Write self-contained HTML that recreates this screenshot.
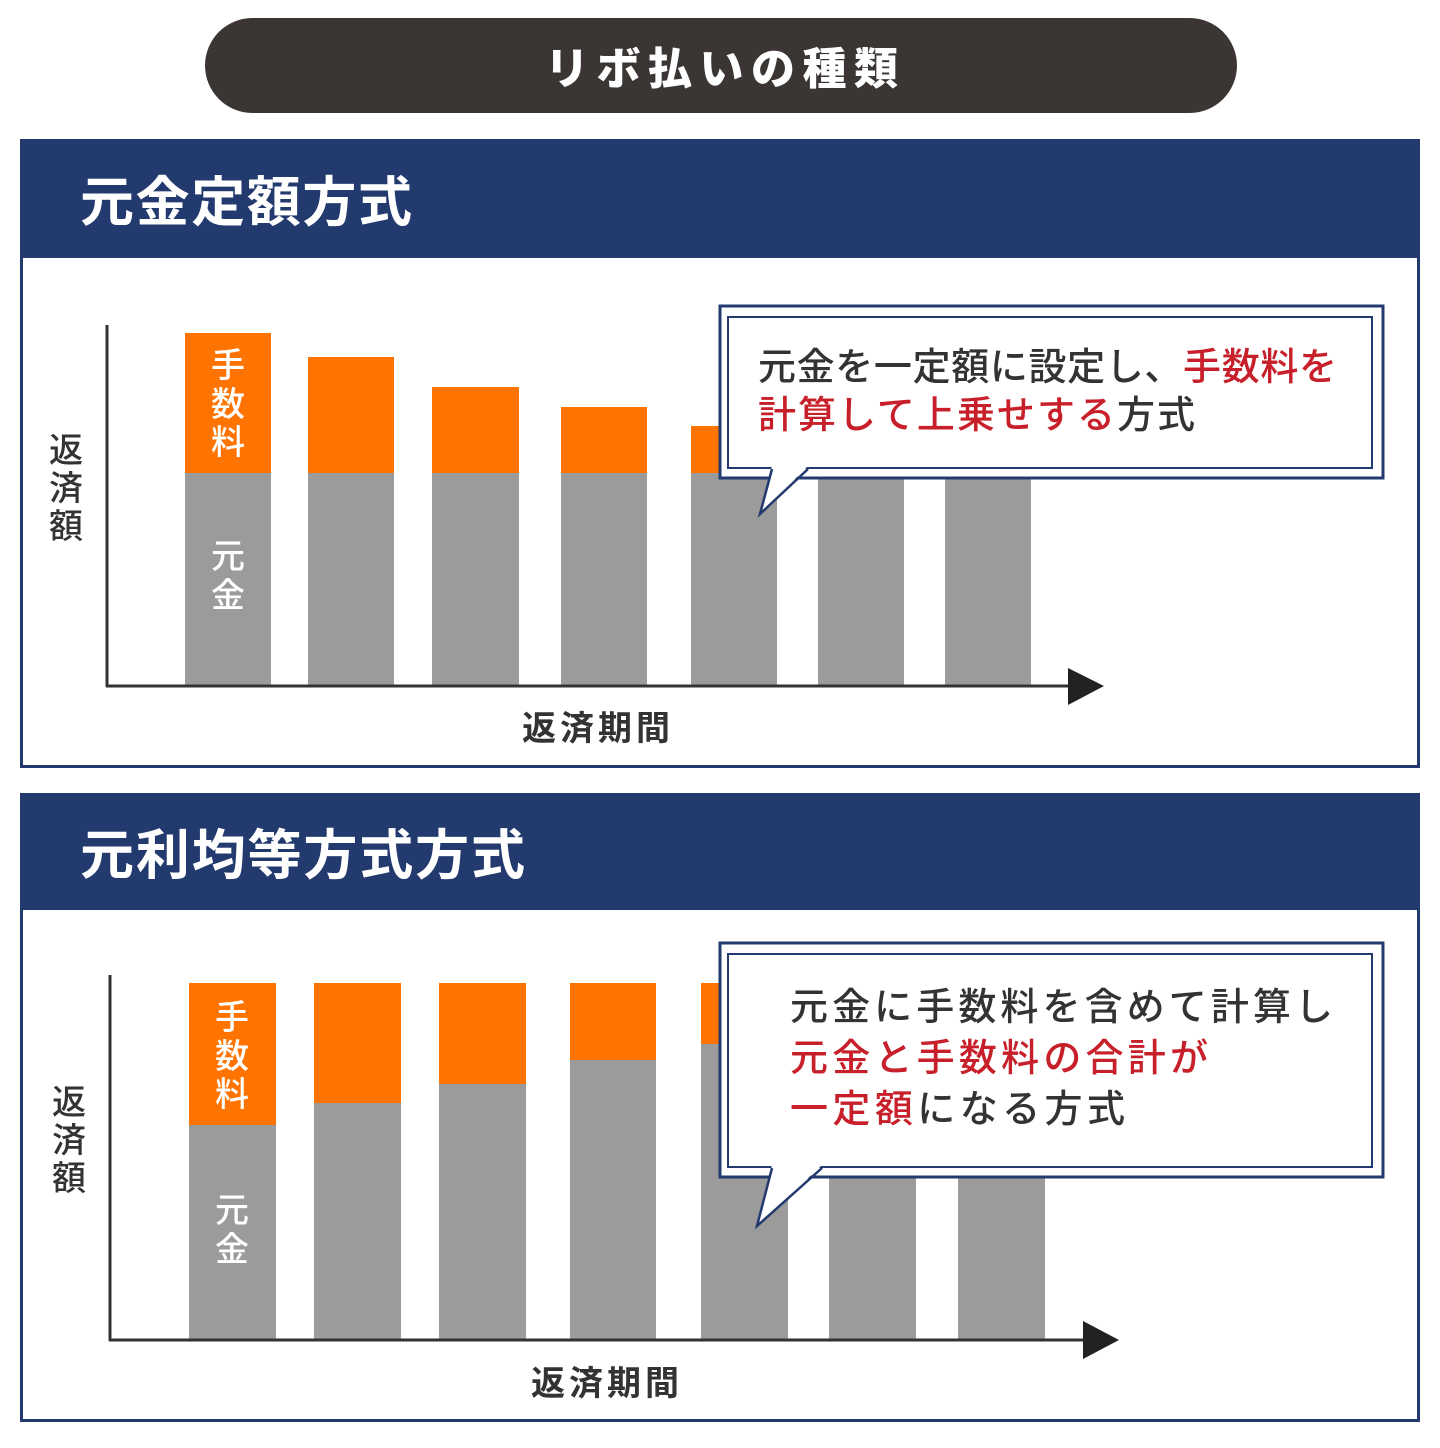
<!DOCTYPE html>
<html><head><meta charset="utf-8"><style>
html,body{margin:0;padding:0;background:#fff;}
svg{display:block}
text{font-family:"Liberation Sans","Noto Sans CJK JP",sans-serif;}
</style></head><body>
<svg width="1440" height="1448" viewBox="0 0 1440 1448" xmlns="http://www.w3.org/2000/svg">
<rect width="1440" height="1448" fill="#fff"/>
<rect x="205" y="18" width="1032" height="95" rx="47.5" fill="#3b3634"/>
<text x="545" y="84" font-size="44" font-weight="900" fill="#fff" textLength="353" lengthAdjust="spacing">リボ払いの種類</text>

<!-- panel 1 -->
<rect x="21.5" y="140.5" width="1397" height="626" fill="#fff" stroke="#233a6e" stroke-width="3"/>
<rect x="20" y="139" width="1400" height="119" fill="#233a6e"/>
<text x="80" y="221" font-size="54" font-weight="700" fill="#fff" textLength="332" lengthAdjust="spacing">元金定額方式</text>
<g fill="#9b9b9b">
<rect x="185" y="473" width="86" height="213"/><rect x="308" y="473" width="86" height="213"/>
<rect x="432" y="473" width="87" height="213"/><rect x="561" y="473" width="86" height="213"/>
<rect x="691" y="473" width="86" height="213"/><rect x="818" y="473" width="86" height="213"/>
<rect x="945" y="473" width="86" height="213"/></g>
<g fill="#ff7300">
<rect x="185" y="333" width="86" height="140"/><rect x="308" y="357" width="86" height="116"/>
<rect x="432" y="387" width="87" height="86"/><rect x="561" y="407" width="86" height="66"/>
<rect x="691" y="426" width="86" height="47"/></g>
<g font-size="34" fill="#fff" text-anchor="middle" font-weight="500">
<text x="228" y="377">手</text><text x="228" y="416">数</text><text x="228" y="454">料</text>
<text x="228" y="568">元</text><text x="228" y="607">金</text></g>
<line x1="107" y1="325" x2="107" y2="687" stroke="#333" stroke-width="3"/>
<line x1="106" y1="686" x2="1072" y2="686" stroke="#333" stroke-width="3"/>
<polygon points="1068,668 1104,686 1068,705" fill="#222"/>
<g font-size="34" fill="#333" text-anchor="middle" font-weight="500">
<text x="66" y="462">返</text><text x="66" y="500">済</text><text x="66" y="538">額</text></g>
<text x="522" y="740" font-size="34" font-weight="700" fill="#333" textLength="148" lengthAdjust="spacing">返済期間</text>
<rect x="720" y="306" width="663" height="172" fill="#fff" stroke="#233a6e" stroke-width="3"/>
<rect x="728" y="317" width="644" height="151" fill="none" stroke="#233a6e" stroke-width="2"/>
<polygon points="772,466 808,466 760,514" fill="#fff"/>
<polyline points="772,469 760,514 808,469" fill="none" stroke="#233a6e" stroke-width="2.5"/>
<text x="758" y="380" font-size="38" font-weight="500" fill="#333" textLength="579" lengthAdjust="spacing">元金を一定額に設定し、<tspan fill="#c8202a">手数料を</tspan></text>
<text x="758" y="428" font-size="38" font-weight="500" fill="#c8202a" textLength="437" lengthAdjust="spacing">計算して上乗せする<tspan fill="#333">方式</tspan></text>

<!-- panel 2 -->
<rect x="21.5" y="794.5" width="1397" height="626" fill="#fff" stroke="#233a6e" stroke-width="3"/>
<rect x="20" y="793" width="1400" height="117" fill="#233a6e"/>
<text x="80" y="874" font-size="54" font-weight="700" fill="#fff" textLength="445" lengthAdjust="spacing">元利均等方式方式</text>
<g fill="#9b9b9b">
<rect x="189" y="1125" width="87" height="215"/><rect x="314" y="1103" width="87" height="237"/>
<rect x="439" y="1084" width="87" height="256"/><rect x="570" y="1060" width="86" height="280"/>
<rect x="701" y="1044" width="87" height="296"/><rect x="829" y="1030" width="87" height="310"/>
<rect x="958" y="1020" width="87" height="320"/></g>
<g fill="#ff7300">
<rect x="189" y="983" width="87" height="142"/><rect x="314" y="983" width="87" height="120"/>
<rect x="439" y="983" width="87" height="101"/><rect x="570" y="983" width="86" height="77"/>
<rect x="701" y="983" width="87" height="61"/></g>
<g font-size="34" fill="#fff" text-anchor="middle" font-weight="500">
<text x="232" y="1029">手</text><text x="232" y="1068">数</text><text x="232" y="1106">料</text>
<text x="232" y="1222">元</text><text x="232" y="1261">金</text></g>
<line x1="110" y1="975" x2="110" y2="1341" stroke="#333" stroke-width="3"/>
<line x1="109" y1="1340" x2="1087" y2="1340" stroke="#333" stroke-width="3"/>
<polygon points="1083,1321 1119,1340 1083,1359" fill="#222"/>
<g font-size="34" fill="#333" text-anchor="middle" font-weight="500">
<text x="69" y="1114">返</text><text x="69" y="1152">済</text><text x="69" y="1190">額</text></g>
<text x="531" y="1395" font-size="34" font-weight="700" fill="#333" textLength="148" lengthAdjust="spacing">返済期間</text>
<rect x="720" y="943" width="663" height="234" fill="#fff" stroke="#233a6e" stroke-width="3"/>
<rect x="728" y="954" width="644" height="213" fill="none" stroke="#233a6e" stroke-width="2"/>
<polygon points="772,1165 822,1165 757,1226" fill="#fff"/>
<polyline points="772,1168 757,1226 822,1168" fill="none" stroke="#233a6e" stroke-width="2.5"/>
<text x="790" y="1020" font-size="38" font-weight="500" fill="#333" textLength="543" lengthAdjust="spacing">元金に手数料を含めて計算し</text>
<text x="790" y="1071" font-size="38" font-weight="500" fill="#c8202a" textLength="418" lengthAdjust="spacing">元金と手数料の合計が</text>
<text x="790" y="1122" font-size="38" font-weight="500" fill="#c8202a" textLength="335" lengthAdjust="spacing">一定額<tspan fill="#333">になる方式</tspan></text>
</svg>
</body></html>
